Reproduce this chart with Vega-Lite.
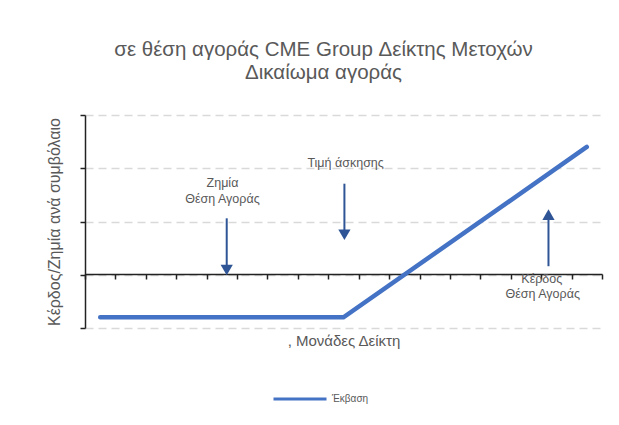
{
  "$schema": "https://vega.github.io/schema/vega-lite/v6.json",
  "width": 517,
  "height": 213,
  "autosize": {"type": "none"},
  "padding": {"left": 85, "top": 115, "right": 17, "bottom": 97},
  "background": "white",
  "config": {
    "view": {"stroke": null},
    "font": "Liberation Sans"
  },
  "title": {
    "text": ["σε θέση αγοράς CME Group Δείκτης Μετοχών", "Δικαίωμα αγοράς"],
    "fontSize": 20.5,
    "fontWeight": "normal",
    "color": "#595959",
    "lineHeight": 23,
    "offset": 31,
    "dx": -20,
    "anchor": "middle"
  },
  "datasets": {
    "payoff": [
      {"x": 0.5, "y": -0.8, "series": "Έκβαση"},
      {"x": 8.5, "y": -0.8, "series": "Έκβαση"},
      {"x": 16.5, "y": 2.4, "series": "Έκβαση"}
    ],
    "arrows": [
      {"x": 4.66, "y": 1.06, "y2": 0.15, "head": 0.09, "dir": "down"},
      {"x": 8.53, "y": 1.71, "y2": 0.8, "head": 0.75, "dir": "down"},
      {"x": 15.24, "y": 0.16, "y2": 1.05, "head": 1.13, "dir": "up"}
    ],
    "labels": [
      {"x": 4.52, "y": 1.73, "text": "Ζημία"},
      {"x": 4.52, "y": 1.43, "text": "Θέση Αγοράς"},
      {"x": 8.57, "y": 2.1, "text": "Τιμή άσκησης"},
      {"x": 15.02, "y": -0.08, "text": "Κέρδος"},
      {"x": 15.05, "y": -0.36, "text": "Θέση Αγοράς"}
    ]
  },
  "layer": [
    {
      "data": {"name": "payoff"},
      "mark": {"type": "line", "strokeWidth": 4.5, "strokeCap": "round"},
      "encoding": {
        "x": {
          "field": "x", "type": "quantitative",
          "scale": {"domain": [0, 17], "nice": false, "zero": false},
          "axis": {
            "title": ", Μονάδες Δείκτη",
            "titleFontSize": 15,
            "titleFontWeight": "normal",
            "titleColor": "#595959",
            "titlePadding": 54,
            "labels": false,
            "grid": false,
            "tickCount": 17,
            "tickSize": 5,
            "tickWidth": 1.5,
            "tickColor": "#222222",
            "domainColor": "#222222",
            "domainWidth": 1.5,
            "offset": -54
          }
        },
        "y": {
          "field": "y", "type": "quantitative",
          "scale": {"domain": [-1, 3], "nice": false, "zero": false},
          "axis": {
            "title": "Κέρδος/Ζημία ανά συμβόλαιο",
            "titleFontSize": 16,
            "titleFontWeight": "normal",
            "titleColor": "#595959",
            "titlePadding": 17,
            "labels": false,
            "values": [-1, 0, 1, 2, 3],
            "grid": true,
            "gridColor": "#D9D9D9",
            "gridWidth": 1.5,
            "gridDash": [8, 5],
            "tickSize": 5,
            "tickWidth": 1.5,
            "tickColor": "#222222",
            "domainColor": "#222222",
            "domainWidth": 1.5
          }
        },
        "color": {
          "field": "series", "type": "nominal",
          "scale": {"range": ["#4472C4"]},
          "legend": {
            "title": null,
            "orient": "none",
            "legendX": 187,
            "legendY": 256,
            "symbolType": "stroke",
            "symbolSize": 2809,
            "symbolStrokeWidth": 3,
            "labelFontSize": 10,
            "labelColor": "#595959",
            "labelOffset": 4
          }
        }
      }
    },
    {
      "data": {"name": "arrows"},
      "mark": {"type": "rule", "color": "#2F5597", "strokeWidth": 2},
      "encoding": {
        "x": {"field": "x", "type": "quantitative"},
        "y": {"field": "y", "type": "quantitative"},
        "y2": {"field": "y2"}
      }
    },
    {
      "data": {"name": "arrows"},
      "mark": {"type": "point", "filled": true, "color": "#2F5597", "size": 150, "opacity": 1},
      "encoding": {
        "x": {"field": "x", "type": "quantitative"},
        "y": {"field": "head", "type": "quantitative"},
        "shape": {
          "field": "dir", "type": "nominal",
          "scale": {"domain": ["down", "up"], "range": ["triangle-down", "triangle-up"]},
          "legend": null
        }
      }
    },
    {
      "data": {"name": "labels"},
      "mark": {"type": "text", "fontSize": 12.5, "color": "#595959", "align": "center", "baseline": "middle"},
      "encoding": {
        "x": {"field": "x", "type": "quantitative"},
        "y": {"field": "y", "type": "quantitative"},
        "text": {"field": "text"}
      }
    }
  ]
}
